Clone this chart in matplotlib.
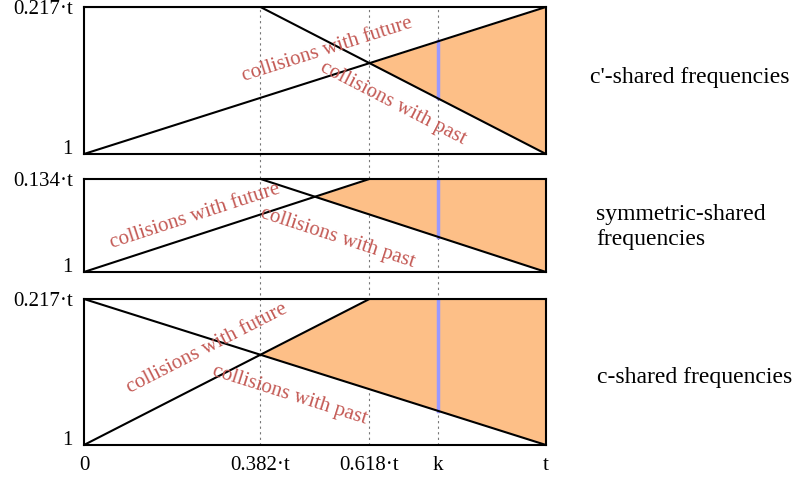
import numpy as np
import matplotlib.pyplot as plt
from matplotlib.transforms import blended_transform_factory

plt.rcParams['font.family'] = ['Liberation Serif', 'DejaVu Serif']

# x in units of t, y as fraction of each panel's height
x_ticks = [0, 0.382, 0.618, 0.766, 1]
x_labels = ['0', '0.382·t', '0.618·t', 'k', 't']
k = 0.766
guides = [0.382, 0.618, 0.766]

top_labels = ['0.217·t', '0.134·t', '0.217·t']
row_names = ["c'-shared frequencies", 'symmetric-shared\nfrequencies', 'c-shared frequencies']

# "collisions with future" line, per panel
future_x = [[0, 1], [0, 0.618, 1], [0, 0.618, 1]]
future_y = [[0, 1], [0, 1, 1], [0, 1, 1]]
# "collisions with past" line, per panel
past_x = [[0, 0.382, 1], [0, 0.382, 1], [0, 1]]
past_y = [[1, 1, 0], [1, 1, 0], [1, 0]]

# label positions (x, y) in data units
future_txt = [(0.526, 0.71), (0.24, 0.60), (0.266, 0.66)]
past_txt = [(0.669, 0.345), (0.548, 0.37), (0.446, 0.34)]

# panel rectangles [left, bottom, width, height] in figure fraction
boxes = [[0.1051, 0.6805, 0.5782, 0.305],
         [0.1051, 0.4357, 0.5782, 0.193],
         [0.1051, 0.0768, 0.5782, 0.3029]]
name_pos = [(0.7384, 0.84), (0.746, 0.529), (0.747, 0.216)]

fill_col = '#fdbf87'
red = '#c45a55'

fig = plt.figure(figsize=(7.99, 4.82), dpi=100)
axes = []
for i in range(3):
    ax = fig.add_axes(boxes[i])
    ax.patch.set_visible(False)
    axes.append(ax)
    xs = np.linspace(0, 1, 2001)
    up = np.interp(xs, future_x[i], future_y[i])
    lo = np.interp(xs, past_x[i], past_y[i])
    ax.fill_between(xs, lo, up, where=up >= lo, interpolate=True,
                    color=fill_col, lw=0, zorder=1)
    ax.plot(future_x[i], future_y[i], color='black', lw=1.5, zorder=3)
    ax.plot(past_x[i], past_y[i], color='black', lw=1.5, zorder=3)
    ax.plot([k, k], [np.interp(k, past_x[i], past_y[i]), np.interp(k, future_x[i], future_y[i])],
            color='#9999ff', lw=2.5, zorder=2)

    # text along the lines
    fdx = future_x[i][1] - future_x[i][0]
    fdy = future_y[i][1] - future_y[i][0]
    pdx = past_x[i][-1] - past_x[i][-2]
    pdy = past_y[i][-1] - past_y[i][-2]
    ax.text(*future_txt[i], 'collisions with future', color=red, fontsize=15,
            rotation=np.degrees(np.arctan2(fdy, fdx)), transform_rotates_text=True,
            rotation_mode='anchor', ha='center', va='center', zorder=4)
    ax.text(*past_txt[i], 'collisions with past', color=red, fontsize=15,
            rotation=np.degrees(np.arctan2(pdy, pdx)), transform_rotates_text=True,
            rotation_mode='anchor', ha='center', va='center', zorder=4)

    ax.set_xlim(0, 1)
    ax.set_ylim(0, 1)
    ax.set_yticks([0, 1])
    ylabs = ax.set_yticklabels(['1', top_labels[i]], fontsize=15)
    ylabs[0].set_va('baseline')
    ylabs[1].set_va('center_baseline')
    ax.set_xticks(x_ticks)
    if i == 2:
        ax.set_xticklabels(x_labels, fontsize=15)
    else:
        ax.set_xticklabels([])
    ax.tick_params(axis='y', length=0, pad=8)
    ax.tick_params(axis='x', length=0, pad=8)
    for s in ax.spines.values():
        s.set_linewidth(1.5)

    fig.text(*name_pos[i], row_names[i], fontsize=17, ha='left', va='center',
             linespacing=1.3)

# dotted guides through all panels
tr = blended_transform_factory(axes[2].transData, fig.transFigure)
y_bot = boxes[2][1]
y_top = boxes[0][1] + boxes[0][3]
for g in guides:
    line = plt.Line2D([g, g], [y_bot, y_top], transform=tr, color='#777777',
                      lw=0.8, ls=(0, (2, 3)), zorder=-1)
    fig.add_artist(line)

fig.savefig('out.png', dpi=100)
